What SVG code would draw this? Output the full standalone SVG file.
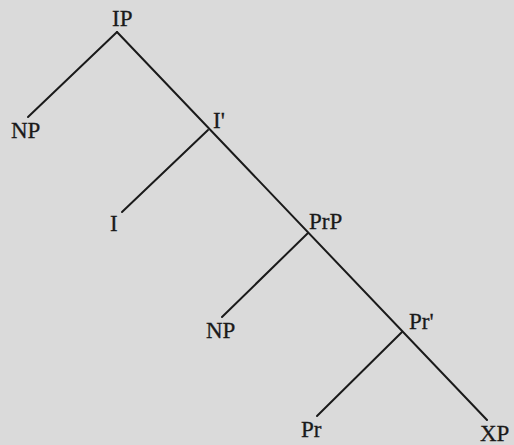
<svg xmlns="http://www.w3.org/2000/svg" width="514" height="445" viewBox="0 0 514 445">
<style>
.lbl{font-family:"Liberation Serif","DejaVu Serif",serif;font-size:23px;fill:#1a1a1a;stroke:#1a1a1a;stroke-width:0.3}
.edge{stroke:#1a1a1a;stroke-width:2;fill:none;stroke-linecap:round}
</style>
<rect width="514" height="445" fill="#dadada"/>
<g id="connectors">
<line class="edge" x1="117" y1="32" x2="28" y2="117"/>
<line class="edge" x1="117" y1="32" x2="487" y2="420"/>
<line class="edge" x1="208" y1="130" x2="122" y2="212"/>
<line class="edge" x1="308" y1="233" x2="222" y2="317"/>
<line class="edge" x1="402" y1="332" x2="317" y2="416"/>
</g>
<g id="IP"><text class="lbl" x="112" y="26">IP</text></g>
<g id="NP1"><text class="lbl" x="11" y="138">NP</text></g>
<g id="Ibar"><text class="lbl" x="213" y="128">I'</text></g>
<g id="I"><text class="lbl" x="110" y="231">I</text></g>
<g id="PrP"><text class="lbl" x="309" y="229">PrP</text></g>
<g id="NP2"><text class="lbl" x="206" y="338">NP</text></g>
<g id="Prbar"><text class="lbl" x="409" y="329">Pr'</text></g>
<g id="Pr"><text class="lbl" x="301" y="437">Pr</text></g>
<g id="XP"><text class="lbl" x="480" y="441">XP</text></g>
</svg>
